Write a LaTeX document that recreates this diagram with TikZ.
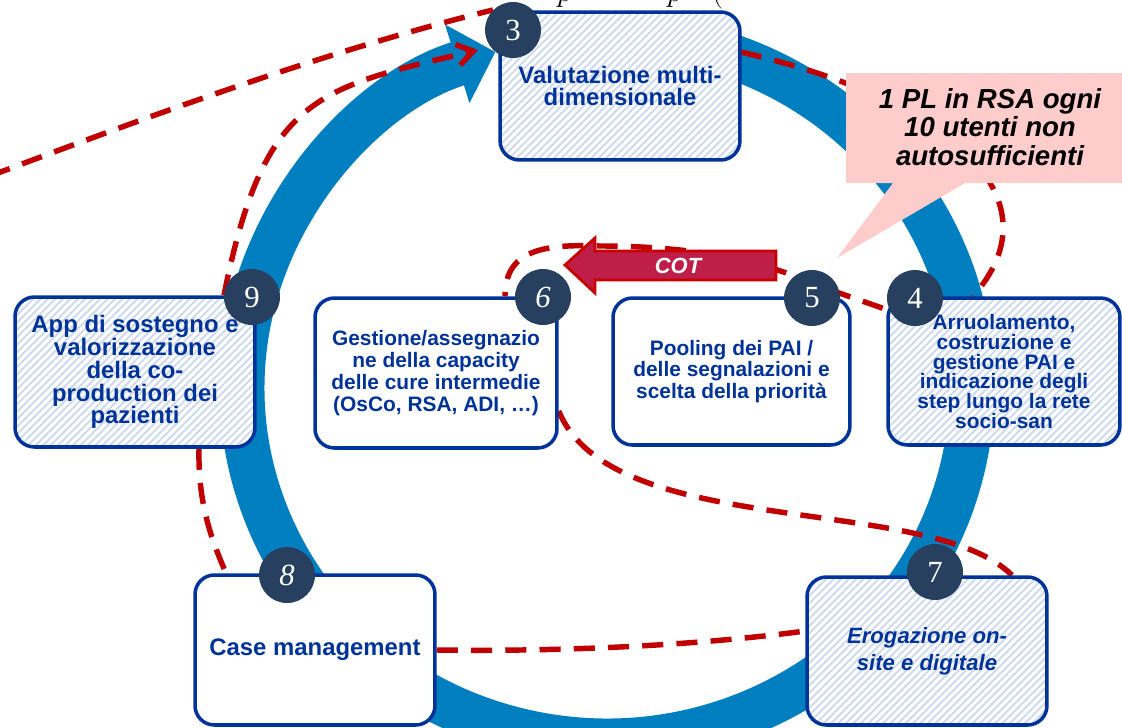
\documentclass[tikz,border=0pt]{standalone}
\usepackage{fontspec}
\setmainfont{Liberation Sans}
\newfontfamily\numfont{Liberation Serif}
\usetikzlibrary{arrows.meta,patterns.meta}

\definecolor{ringblue}{RGB}{0,127,192}
\definecolor{navy}{RGB}{0,51,153}
\definecolor{badgec}{RGB}{39,64,96}
\definecolor{dashred}{RGB}{192,0,0}
\definecolor{hatchc}{RGB}{205,218,238}
\definecolor{cotfill}{RGB}{190,30,72}
\definecolor{cotedge}{RGB}{200,0,0}
\definecolor{notepink}{RGB}{255,204,204}

\pgfdeclarelayer{back}
\pgfsetlayers{back,main}

\begin{document}
\begin{tikzpicture}[x=0.02cm,y=-0.02cm,
  stepbox/.style={draw=navy, line width=2pt, rounded corners=11pt, fill=white, text=navy,
    align=center, inner sep=0pt, font=\bfseries\fontsize{13.6}{13}\selectfont},
  hatched/.style={preaction={fill=white},
    pattern={Lines[angle=45,distance=3pt,line width=1.1pt]}, pattern color=hatchc},
  badge/.style={circle, fill=badgec, text=white, minimum size=1.12cm, inner sep=0pt,
    font=\numfont\fontsize{17.5}{17.5}\selectfont},
  badgeit/.style={badge, font=\numfont\itshape\fontsize{17.5}{17.5}\selectfont},
  link/.style={draw=dashred, line width=3.1pt, dash pattern=on 12pt off 7.5pt},
  linkhead/.style={-{Straight Barb[length=9pt,width=12pt]}},
]
\useasboundingbox (0,0) rectangle (1122,727);

% process boxes
\node[stepbox, hatched, minimum width=4.8cm, minimum height=2.96cm] (box3) at (620,86)
  {Valutazione multi-\\dimensionale};
\node[stepbox, hatched, minimum width=4.8cm, minimum height=3cm] (box9) at (135,372)
  {App di sostegno e\\valorizzazione\\della co-\\production dei\\pazienti};
\node[stepbox, minimum width=4.84cm, minimum height=3cm,
  font=\bfseries\fontsize{11.9}{12.4}\selectfont] (box6) at (436,373)
  {Gestione/assegnazio\\ne della capacity\\delle cure intermedie\\(OsCo, RSA, ADI, …)};
\node[stepbox, minimum width=4.74cm, minimum height=2.94cm,
  font=\bfseries\fontsize{11.9}{12.2}\selectfont] (box5) at (731.5,371.5)
  {Pooling dei PAI /\\delle segnalazioni e\\scelta della priorità};
\node[stepbox, hatched, minimum width=4.64cm, minimum height=2.94cm,
  font=\bfseries\fontsize{11.9}{11.3}\selectfont] (box4) at (1004,371.5)
  {Arruolamento,\\costruzione e\\gestione PAI e\\indicazione degli\\step lungo la rete\\socio-san};
\node[stepbox, minimum width=4.8cm, minimum height=3cm] (box8) at (315,650)
  {Case management};
\node[stepbox, hatched, minimum width=4.8cm, minimum height=2.96cm,
  font=\bfseries\itshape\fontsize{12.6}{15.3}\selectfont] (box7) at (927,651)
  {Erogazione on-\\site e digitale};

% step numbers
\node[badge] (b3) at (513,30) {3};
\node[badge] (b9) at (252,297) {9};
\node[badgeit] (b6) at (543,297) {6};
\node[badge] (b5) at (812,298) {5};
\node[badge] (b4) at (915,298) {4};
\node[badgeit] (b8) at (287,575) {8};
\node[badge] (b7) at (935,572) {7};

% free ends of the dashed links
\coordinate (farleft) at (-10,176);
\coordinate (tip3) at (478,50);
\coordinate (cotpass) at (600,246);

\begin{pgfonlayer}{back}
  % circular flow arrow
  \draw[ringblue, line width=0.9cm, -{Triangle[length=0.8cm,width=1.6cm]}]
    (607,388) ++(75:7.3cm and 7.06cm)
    arc[start angle=75, end angle=-252.2, x radius=7.3cm, y radius=7.06cm];
  % dashed links
  \draw[link] (farleft) .. controls +(170,-64) and +(-163,40) .. (b3.135);
  \draw[link, linkhead] ([xshift=1.78cm]box9.north) .. controls +(40,-200) and +(-160,38) .. (tip3);
  \draw[link] ([xshift=1.28cm]box9.south) .. controls +(-1,55) and +(-15,-35) .. ([xshift=-1.78cm]box8.north);
  \draw[link] (box8.east) .. controls +(150,2) and +(-90,12) .. ([yshift=0.4cm]box7.west);
  \draw[link] ([yshift=-0.76cm]box6.east) .. controls +(53,130) and +(-82,-82) .. ([xshift=1.7cm]box7.north);
  \draw[link] ([yshift=0.68cm]box3.east) .. controls +(210,48) and +(87,-98) .. ([xshift=-0.62cm]box4.north);
  \draw[link] ([yshift=-0.43cm]b4.center) -- ([yshift=0.29cm]b5.center)
    .. controls +(-72,-33.5) and +(50,0) .. (cotpass)
    .. controls +(-55,-2) and +(0,-47) .. ([xshift=1.38cm]box6.north);
\end{pgfonlayer}

% COT arrow
\draw[draw=cotedge, fill=cotfill, line width=1.6pt, line join=miter]
  (776,251) -- (595,251) -- (595,238) -- (565,265) -- (595,293) -- (595,280) -- (776,280) -- cycle;
\node[font=\bfseries\itshape\fontsize{12.5}{12.5}\selectfont, text=white] (cot) at (678,266) {COT};

% callout
\fill[notepink] (846,73) -- (1130,73) -- (1130,183) -- (965,183) -- (837,258) -- (893,183) -- (846,183) -- cycle;
\node[font=\bfseries\itshape\fontsize{15.7}{16.4}\selectfont, align=center, inner sep=0pt] (note) at (990,127)
  {1 PL in RSA ogni\\10 utenti non\\autosufficienti};

% glyph tails of a line set above the top edge
\node[anchor=base west, inner sep=0pt, font=\fontsize{18}{18}\selectfont] (frag1) at (557,1) {$p$};
\node[anchor=base west, inner sep=0pt, font=\fontsize{18}{18}\selectfont] (frag2) at (667,1) {$p$};
\node[anchor=base west, inner sep=0pt, font=\fontsize{18}{18}\selectfont] (frag3) at (712,1) {$($};
\end{tikzpicture}
\end{document}
